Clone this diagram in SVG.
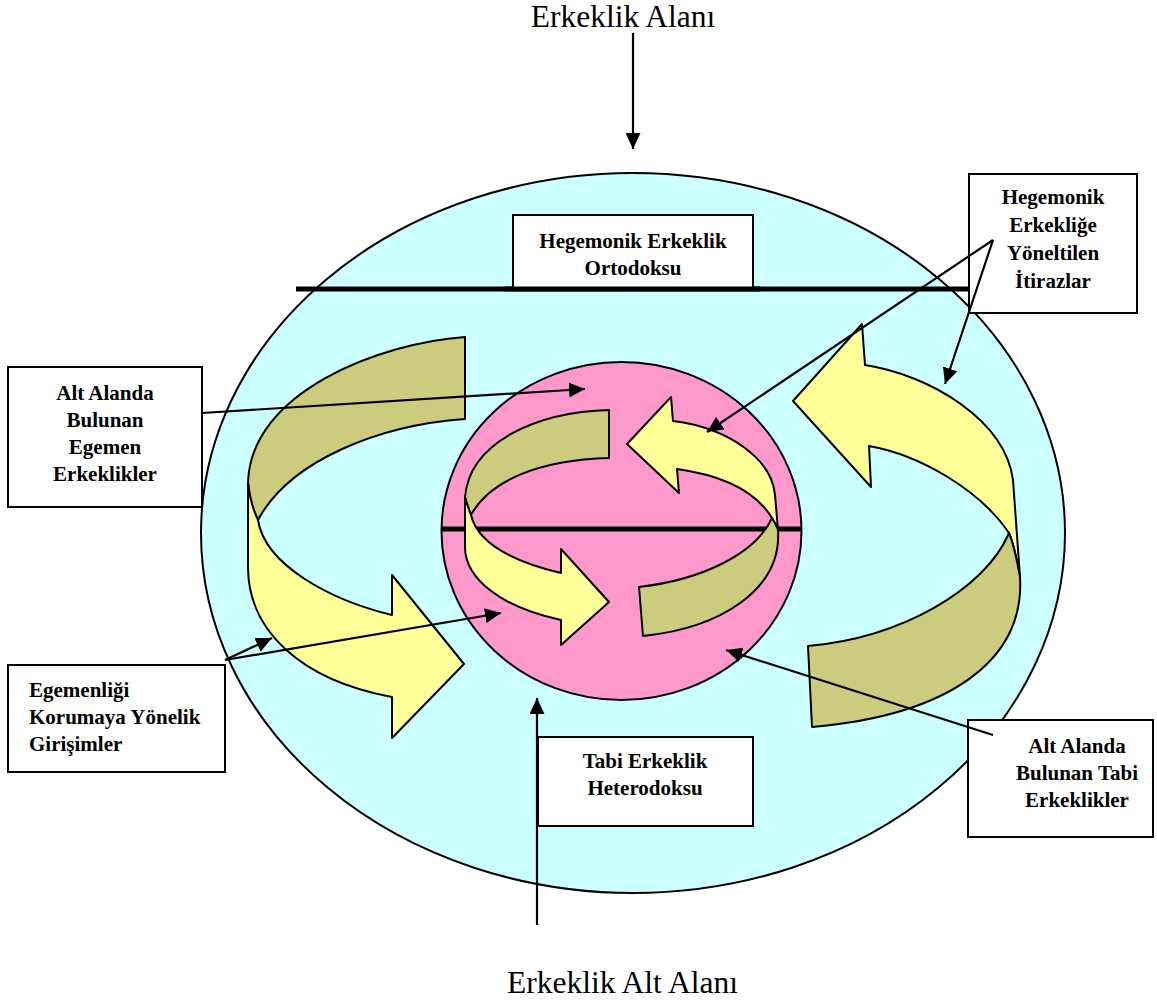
<svg xmlns="http://www.w3.org/2000/svg" width="1157" height="1001" viewBox="0 0 1157 1001">
<defs>
<style>
.box{fill:#ffffff;stroke:#000;stroke-width:2}
.lbl{font-family:"Liberation Serif","Times New Roman",serif;font-weight:bold;font-size:21px;fill:#000}
.title{font-family:"Liberation Serif","Times New Roman",serif;font-size:31.5px;fill:#000}
.yel{fill:#ffff99;stroke:#000;stroke-width:2;stroke-linejoin:round}
.olv{fill:#cccc7f;stroke:#000;stroke-width:2;stroke-linejoin:round}
.con{stroke:#000;stroke-width:2.2;fill:none}
.bar{stroke:#000;stroke-width:5}
</style>
<marker id="ah" markerUnits="userSpaceOnUse" markerWidth="16" markerHeight="15" refX="16" refY="7.5" orient="auto" viewBox="0 0 16 15">
<path d="M0,0 L16,7.5 L0,15 Z" fill="#000"/>
</marker>
</defs>
<rect width="1157" height="1001" fill="#ffffff"/>

<g id="field">
<ellipse cx="633" cy="533" rx="432" ry="360" fill="#ccffff" stroke="#000" stroke-width="2"/>
<line class="bar" x1="296" y1="289" x2="968" y2="289"/>
</g>

<g id="left-arrow">
<path class="olv" d="M465,337 C380,343 250,392 248,483 C250,500 253,510 258,520 C290,460 380,425 465,419 Z"/>
<path class="yel" d="M248,483 L248,567 C248,630 300,680 392,697 L392,738 L464,664 L392,575 L392,615 C330,600 265,565 258,520 C253,510 250,500 248,483 Z"/>
</g>

<g id="right-arrow">
<path class="yel" d="M793,401 L862,324 L865,365 C930,375 1005,420 1013,480 L1020,577 C1017,560 1014,545 1009,533 C980,490 920,455 869,446 L871,487 Z"/>
<path class="olv" d="M1020,577 C1025,660 950,715 812,727 L808,646 C900,638 985,590 1009,533 C1014,545 1017,560 1020,577 Z"/>
</g>

<g id="subfield">
<ellipse cx="621.5" cy="531" rx="180" ry="169" fill="#ff99cc" stroke="#000" stroke-width="2"/>
<line class="bar" x1="442" y1="529" x2="801" y2="529"/>
</g>

<g id="inner-left-arrow">
<path class="olv" d="M609,410 C540,412 470,440 465,497 C467,505 469,510 471,515 C490,480 540,460 609,458 Z"/>
<path class="yel" d="M465,497 L465,547 C465,578 500,607 561,620 L561,645 L609,602 L561,549 L561,573 C515,562 478,545 471,515 C469,510 467,505 465,497 Z"/>
</g>

<g id="inner-right-arrow">
<path class="yel" d="M627,444 L671,397 L673,421 C730,428 772,460 775,495 L778,530 C776,525 774,521 772,518 C755,490 720,475 677,469 L679,493 Z"/>
<path class="olv" d="M778,530 C782,590 720,628 643,636 L639,587 C700,580 755,555 772,518 C774,521 776,525 778,530 Z"/>
</g>

<g id="node-ortodoks">
<rect class="box" x="513" y="215" width="240" height="74"/>
<line class="bar" x1="505" y1="289" x2="760" y2="289"/>
<text class="lbl" x="633" y="248" text-anchor="middle">Hegemonik Erkeklik</text>
<text class="lbl" x="633" y="275" text-anchor="middle">Ortodoksu</text>
</g>

<g id="node-itirazlar">
<rect class="box" x="969" y="174" width="168" height="139"/>
<text class="lbl" x="1053" y="204" text-anchor="middle">Hegemonik</text>
<text class="lbl" x="1053" y="232" text-anchor="middle">Erkekliğe</text>
<text class="lbl" x="1053" y="260" text-anchor="middle">Yöneltilen</text>
<text class="lbl" x="1053" y="288" text-anchor="middle">İtirazlar</text>
</g>

<g id="node-egemen">
<rect class="box" x="8" y="367" width="194" height="140"/>
<text class="lbl" x="105" y="400" text-anchor="middle">Alt Alanda</text>
<text class="lbl" x="105" y="427" text-anchor="middle">Bulunan</text>
<text class="lbl" x="105" y="454" text-anchor="middle">Egemen</text>
<text class="lbl" x="105" y="481" text-anchor="middle">Erkeklikler</text>
</g>

<g id="node-girisimler">
<rect class="box" x="8" y="665" width="217" height="107"/>
<text class="lbl" x="29" y="697">Egemenliği</text>
<text class="lbl" x="29" y="724">Korumaya Yönelik</text>
<text class="lbl" x="29" y="751">Girişimler</text>
</g>

<g id="node-heterodoks">
<rect class="box" x="538" y="737" width="215" height="89"/>
<text class="lbl" x="645" y="768" text-anchor="middle">Tabi Erkeklik</text>
<text class="lbl" x="645" y="795" text-anchor="middle">Heterodoksu</text>
</g>

<g id="node-tabi">
<rect class="box" x="968" y="720" width="185" height="117"/>
<text class="lbl" x="1077" y="753" text-anchor="middle">Alt Alanda</text>
<text class="lbl" x="1077" y="780" text-anchor="middle">Bulunan Tabi</text>
<text class="lbl" x="1077" y="807" text-anchor="middle">Erkeklikler</text>
</g>

<g id="node-titles">
<text class="title" x="623" y="27" text-anchor="middle">Erkeklik Alanı</text>
<text class="title" x="622.5" y="993" text-anchor="middle">Erkeklik Alt Alanı</text>
</g>

<g id="connectors">
<line class="con" x1="633" y1="33" x2="633" y2="149" marker-end="url(#ah)"/>
<line class="con" x1="537" y1="925" x2="537" y2="698" marker-end="url(#ah)"/>
<line class="con" x1="202" y1="413" x2="585" y2="389" marker-end="url(#ah)"/>
<line class="con" x1="225" y1="660" x2="272" y2="638" marker-end="url(#ah)"/>
<line class="con" x1="225" y1="660" x2="501" y2="613" marker-end="url(#ah)"/>
<line class="con" x1="993" y1="240" x2="707" y2="432" marker-end="url(#ah)"/>
<line class="con" x1="993" y1="240" x2="945" y2="384" marker-end="url(#ah)"/>
<line class="con" x1="993" y1="735" x2="726" y2="650" marker-end="url(#ah)"/>
</g>
</svg>
